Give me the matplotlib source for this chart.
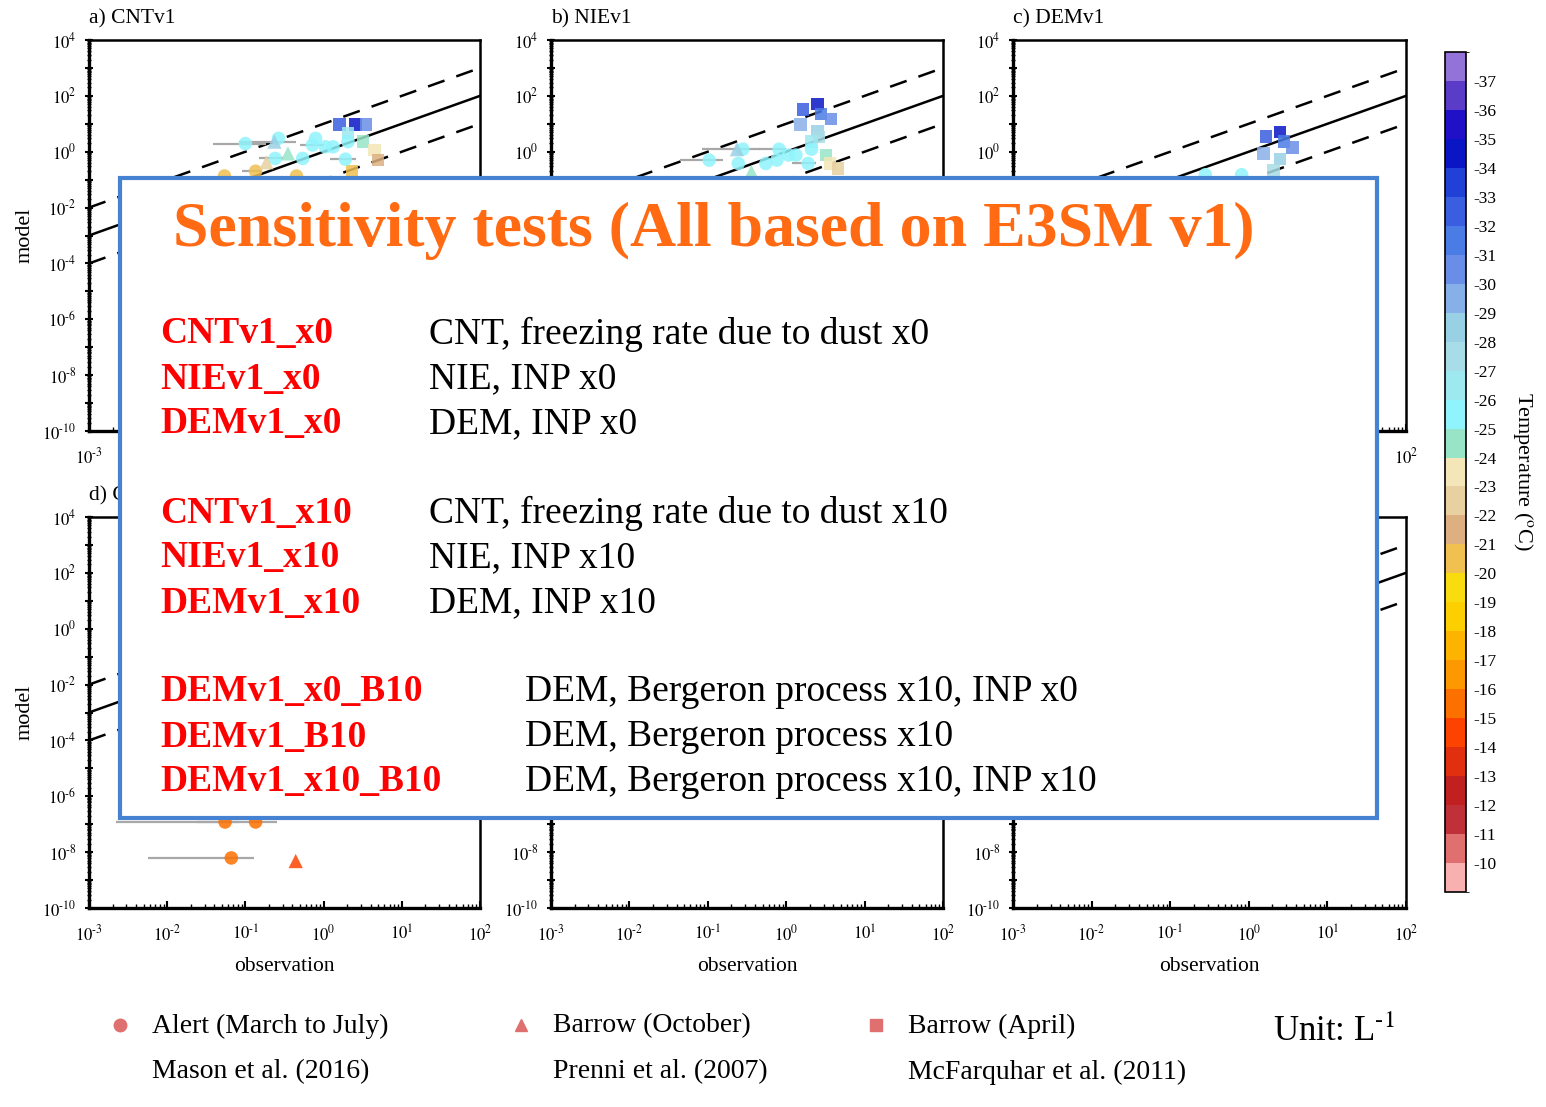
import matplotlib
matplotlib.use('Agg')
import matplotlib.pyplot as plt
from matplotlib.colors import ListedColormap, BoundaryNorm
from matplotlib.patches import Rectangle
import matplotlib.ticker as mticker

plt.rcParams['font.family'] = ['Liberation Serif', 'DejaVu Serif']
plt.rcParams['mathtext.fontset'] = 'stix'

# ---------------- colour scale (temperature, degC) ----------------
temp_bounds = list(range(-38, -8))          # 29 bins
temp_ticks = list(range(-37, -9))
temp_colors = ['#9373d8', '#5a3cc8', '#2010c8', '#0a16c6', '#2040d8', '#3a5ee0',
               '#4a7ce6', '#6a8ee8', '#88b0e8', '#98d0e4', '#a8dce6', '#9ee8f0',
               '#90f4fc', '#98e4c8', '#f4e6b8', '#e8d0a0', '#dcb080', '#f0c050',
               '#f8dc10', '#fcd000', '#fcb400', '#fc9800', '#fc7000', '#fc4400',
               '#e03010', '#c02020', '#c03038', '#e07070', '#f8b0b0']

panel_titles = ["a) CNTv1", "b) NIEv1", "c) DEMv1",
                "d) CNTv1_x0", "e) NIEv1_x0", "f) DEMv1_x0"]

# ---------------- panel a) CNTv1 ----------------
a_sq_obs = [1.6, 2.55, 3.5, 2.05, 3.2, 4.5, 5.0, 2.3]
a_sq_mod = [9.5, 9.5, 9.5, 4.6, 2.3, 1.15, 0.5, 0.2]
a_sq_T = [-32.5, -34.5, -30.5, -26.5, -24.5, -23.5, -21.5, -20.5]
a_ci_obs = [0.10, 0.265, 0.79, 0.72, 1.05, 1.32, 2.05, 0.24, 0.54, 1.9, 0.054, 0.135, 0.45]
a_ci_mod = [1.95, 3.0, 3.0, 1.74, 1.5, 1.5, 2.3, 0.575, 0.575, 0.54, 0.135, 0.2, 0.135]
a_ci_T = [-25.5] * 10 + [-20.5] * 3
a_tr_obs = [0.235, 0.35, 0.186]
a_tr_mod = [2.3, 0.87, 0.42]
a_tr_T = [-28.5, -24.5, -22.5]
a_err_lo = [0.038, 0.083, 0.50, 1.19, 0.15, 0.09]
a_err_hi = [0.186, 0.45, 1.0, 2.6, 0.30, 0.16]
a_err_mod = [1.95, 2.3, 1.8, 0.54, 0.575, 0.2]

# ---------------- panel b) NIEv1 ----------------
b_sq_obs = [1.65, 2.5, 2.8, 3.7, 1.53, 2.5, 2.6, 2.1, 3.2, 3.6, 4.6]
b_sq_mod = [33, 50, 22, 14.5, 9.5, 5.6, 3.3, 2.3, 0.76, 0.38, 0.25]
b_sq_T = [-32.5, -34.5, -31.5, -30.5, -29.5, -28.5, -27.5, -26.5, -24.5, -23.5, -22.5]
b_ci_obs = [0.104, 0.28, 0.245, 0.55, 0.76, 0.81, 1.07, 1.33, 2.1, 1.9]
b_ci_mod = [0.5, 1.23, 0.38, 0.38, 0.5, 1.23, 0.76, 0.76, 1.23, 0.38]
b_ci_T = [-25.5] * 10
b_tr_obs = [0.235, 0.36]
b_tr_mod = [1.23, 0.19]
b_tr_T = [-28.5, -24.5]
b_err_lo = [0.044, 0.085, 0.45, 1.2]
b_err_hi = [0.156, 0.46, 1.0, 2.4]
b_err_mod = [0.5, 1.23, 1.23, 0.38]

# ---------------- panel c) DEMv1 ----------------
c_sq_obs = [1.66, 2.5, 2.8, 3.6, 1.53, 2.5, 2.05]
c_sq_mod = [3.5, 5.2, 2.3, 1.4, 0.87, 0.54, 0.22]
c_sq_T = [-32.5, -34.5, -31.5, -30.5, -29.5, -28.5, -27.5]
c_ci_obs = [0.28, 0.81]
c_ci_mod = [0.15, 0.15]
c_ci_T = [-25.5, -25.5]
c_tr_obs, c_tr_mod, c_tr_T = [], [], []
c_err_lo, c_err_hi, c_err_mod = [], [], []

# ---------------- panel d) CNTv1_x0 ----------------
d_sq_obs, d_sq_mod, d_sq_T = [], [], []
d_ci_obs = [0.055, 0.135, 0.066]
d_ci_mod = [1.2e-7, 1.2e-7, 6.2e-9]
d_ci_T = [-15.5, -15.5, -15.5]
d_tr_obs = [0.44]
d_tr_mod = [4.8e-9]
d_tr_T = [-14.5]
d_err_lo = [0.024, 0.0022, 0.0057]
d_err_hi = [0.084, 0.257, 0.127]
d_err_mod = [1.2e-7, 1.2e-7, 6.2e-9]

empty = ([], [], [])
panels = [
    dict(sq=(a_sq_obs, a_sq_mod, a_sq_T), ci=(a_ci_obs, a_ci_mod, a_ci_T),
         tr=(a_tr_obs, a_tr_mod, a_tr_T), err=(a_err_lo, a_err_hi, a_err_mod)),
    dict(sq=(b_sq_obs, b_sq_mod, b_sq_T), ci=(b_ci_obs, b_ci_mod, b_ci_T),
         tr=(b_tr_obs, b_tr_mod, b_tr_T), err=(b_err_lo, b_err_hi, b_err_mod)),
    dict(sq=(c_sq_obs, c_sq_mod, c_sq_T), ci=(c_ci_obs, c_ci_mod, c_ci_T),
         tr=(c_tr_obs, c_tr_mod, c_tr_T), err=(c_err_lo, c_err_hi, c_err_mod)),
    dict(sq=(d_sq_obs, d_sq_mod, d_sq_T), ci=(d_ci_obs, d_ci_mod, d_ci_T),
         tr=(d_tr_obs, d_tr_mod, d_tr_T), err=(d_err_lo, d_err_hi, d_err_mod)),
    dict(sq=empty, ci=empty, tr=empty, err=empty),
    dict(sq=empty, ci=empty, tr=empty, err=empty),
]

ref_x = [1e-3, 1e2]
ref_factors = [1, 10, 0.1]
ref_styles = ['-', (0, (7, 5)), (0, (7, 5))]

# ---------------- text in overlay box ----------------
box_title = "Sensitivity tests (All based on E3SM v1)"
exp_names = ["CNTv1_x0", "NIEv1_x0", "DEMv1_x0",
             "CNTv1_x10", "NIEv1_x10", "DEMv1_x10",
             "DEMv1_x0_B10", "DEMv1_B10", "DEMv1_x10_B10"]
exp_desc = ["CNT, freezing rate due to dust x0", "NIE, INP x0", "DEM, INP x0",
            "CNT, freezing rate due to dust x10", "NIE, INP x10", "DEM, INP x10",
            "DEM, Bergeron process x10, INP x0", "DEM, Bergeron process x10",
            "DEM, Bergeron process x10, INP x10"]

legend_sites = ["Alert (March to July)", "Barrow (October)", "Barrow (April)"]
legend_refs = ["Mason et al. (2016)", "Prenni et al. (2007)", "McFarquhar et al. (2011)"]
legend_markers = ['o', '^', 's']

# ================= figure =================
W, H = 1546, 1107
fig = plt.figure(figsize=(W / 100, H / 100), dpi=100)
cmap = ListedColormap(temp_colors)
norm = BoundaryNorm(temp_bounds, cmap.N)


def fig_rect(x0, y0, x1, y1):
    return [x0 / W, 1 - y1 / H, (x1 - x0) / W, (y1 - y0) / H]


def pow_label(k):
    # hyphen-style exponent like the reference
    return r'$10^{\mathrm{%s}}$' % (('\u2010%d' % -k) if k < 0 else '%d' % k)


col_x = [(89, 480), (551, 943), (1013, 1406)]
row_y = [(40, 431), (517, 908)]
box_px = (120, 178, 1377, 818)

axes = []
title_texts = []
for i in range(6):
    r, c = divmod(i, 3)
    ax = fig.add_axes(fig_rect(col_x[c][0], row_y[r][0], col_x[c][1], row_y[r][1]))
    axes.append(ax)
    ax.set_xscale('log')
    ax.set_yscale('log')
    ax.set_xlim(1e-3, 1e2)
    ax.set_ylim(1e-10, 1e4)
    for f, ls in zip(ref_factors, ref_styles):
        ax.plot(ref_x, [v * f for v in ref_x], color='black', lw=1.8, ls=ls, zorder=2)
    p = panels[i]
    lo, hi, ym = p['err']
    if lo:
        ax.hlines(ym, lo, hi, color='#a8a8a8', lw=1.6, zorder=3)
    for key, mk, s in (('sq', 's', 80), ('ci', 'o', 95), ('tr', '^', 105)):
        ox, oy, ot = p[key]
        if ox:
            ax.scatter(ox, oy, c=ot, cmap=cmap, norm=norm, marker=mk, s=s,
                       alpha=0.85, edgecolors='none', zorder=4)
    ax.set_xticks([10.0 ** k for k in range(-3, 3)])
    ax.set_xticklabels([pow_label(k) for k in range(-3, 3)])
    ax.set_yticks([10.0 ** k for k in range(-10, 5)])
    ax.set_yticklabels([pow_label(k) if k % 2 == 0 else '' for k in range(-10, 5)])
    ax.xaxis.set_minor_locator(mticker.LogLocator(base=10, subs=range(2, 10), numticks=50))
    ax.yaxis.set_minor_locator(mticker.LogLocator(base=10, subs=range(2, 10), numticks=50))
    ax.xaxis.set_minor_formatter(mticker.NullFormatter())
    ax.yaxis.set_minor_formatter(mticker.NullFormatter())
    ax.tick_params(axis='x', which='major', direction='in', length=5, width=1.5,
                   labelsize=12, pad=12)
    ax.tick_params(axis='x', which='minor', direction='in', length=3, width=1)
    ax.tick_params(axis='y', which='major', direction='inout', length=6, width=1.5,
                   labelsize=12, pad=6)
    ax.tick_params(axis='y', which='minor', direction='inout', length=3, width=1)
    for side in ('left', 'bottom'):
        ax.spines[side].set_linewidth(2.4)
    for side in ('top', 'right'):
        ax.spines[side].set_linewidth(1.8)
    t = ax.text(0.0, 1.03, panel_titles[i], transform=ax.transAxes, fontsize=15.5,
                ha='left', va='bottom')
    title_texts.append(t)
    if c == 0:
        ax.set_ylabel('model', fontsize=16, labelpad=6)
    if r == 1:
        ax.set_xlabel('observation', fontsize=15.5, labelpad=9)

# ---------------- colour bar ----------------
cax = fig.add_axes(fig_rect(1445, 52, 1466, 892))
sm = plt.cm.ScalarMappable(cmap=cmap, norm=norm)
cb = fig.colorbar(sm, cax=cax, boundaries=temp_bounds, ticks=temp_ticks, drawedges=True)
cb.ax.invert_yaxis()
cb.outline.set_linewidth(1.2)
cb.dividers.set_linewidth(1.2)
cb.ax.tick_params(length=0, labelsize=12.5, pad=5)
cb.ax.set_yticklabels(['%d' % t for t in temp_ticks])
cb.set_label(r'Temperature ($^{\rm o}$C)', fontsize=16, rotation=270, labelpad=28)

# ---------------- overlay (pixel coordinates) ----------------
ov = fig.add_axes([0, 0, 1, 1], zorder=10)
ov.set_xlim(0, W)
ov.set_ylim(H, 0)
ov.axis('off')
ov.patch.set_visible(False)
ov.add_patch(Rectangle((box_px[0], box_px[1]), box_px[2] - box_px[0], box_px[3] - box_px[1],
                       facecolor='white', edgecolor='#4682d2', lw=3.0))
ov.text(173, 231, box_title, fontsize=46, fontweight='bold', color='#ff6a13',
        ha='left', va='center')
name_y = [333, 378, 423, 512, 557, 602, 691, 736, 781]
for k, (nm, ds) in enumerate(zip(exp_names, exp_desc)):
    ov.text(160, name_y[k] + 1, nm, fontsize=27, fontweight='bold', color='#ff0000',
            ha='left', va='center')
    ov.text(429 if k < 6 else 525, name_y[k] + 1, ds, fontsize=27, color='black',
            ha='left', va='center')

leg_x = [120, 521, 876]
for k in range(3):
    ov.plot([leg_x[k]], [1025], marker=legend_markers[k], ms=9, color='#e07070', ls='none')
    ov.text(leg_x[k] + 32, 1026, legend_sites[k], fontsize=20, ha='left', va='center')
    ov.text(leg_x[k] + 32, 1072, legend_refs[k], fontsize=20, ha='left', va='center')
ov.text(1273, 1032, 'Unit: L$^{\\mathrm{\u20101}}$', fontsize=25, ha='left', va='center')

# texts lying completely under the white box are invisible anyway: do not draw them
fig.canvas.draw()
renderer = fig.canvas.get_renderer()
bx0, by0 = box_px[0], H - box_px[3]
bx1, by1 = box_px[2], H - box_px[1]
hidden_candidates = list(title_texts)
for ax in axes:
    hidden_candidates += ax.get_xticklabels() + ax.get_yticklabels()
for t in hidden_candidates:
    if not t.get_text():
        continue
    bb = t.get_window_extent(renderer)
    if bb.x0 >= bx0 and bb.x1 <= bx1 and bb.y0 >= by0 and bb.y1 <= by1:
        t.set_visible(False)

fig.savefig('out.png', dpi=100)
